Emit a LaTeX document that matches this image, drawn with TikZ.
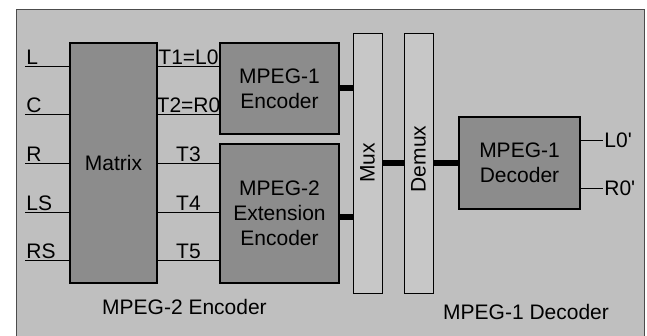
\documentclass[tikz,border=0pt]{standalone}
\usepackage{fontspec}
\setmainfont{Liberation Sans}
\usetikzlibrary{positioning}
\tikzset{
	block/.style={draw, line width=1.4pt, fill=black!45, align=center, inner sep=0pt},
	muxbox/.style={draw, line width=0.9pt, fill=black!22, inner sep=0pt},
	wire/.style={line width=0.8pt},
	bus/.style={line width=6pt},
	lbl/.style={inner sep=1pt},
}
\begin{document}
\begin{tikzpicture}[x=1pt, y=-1pt, font=\fontsize{21}{25}\selectfont]
		\useasboundingbox (0,0) rectangle (647,336);
		\draw[line width=1pt, draw=black!70, fill=black!25] (16,10) rectangle (644,340);
		% blocks
		\node[block, minimum width=87, minimum height=240] (matrix) at (113.5,163) {Matrix};
		\node[block, minimum width=119, minimum height=91] (enc1) at (279.5,88.5) {MPEG-1\\Encoder};
		\node[block, minimum width=119, minimum height=139] (enc2) at (279.5,213.5) {MPEG-2\\Extension\\Encoder};
		\node[muxbox, minimum width=29, minimum height=260] (mux) at (367.5,163) {};
		\node[muxbox, minimum width=29, minimum height=260] (demux) at (418.5,163) {};
		\node[rotate=90] at (mux.center) {Mux};
		\node[rotate=90] at ([yshift=4]demux.center) {Demux};
		\node[block, minimum width=121, minimum height=92] (dec) at (519.5,163) {MPEG-1\\Decoder};
		% inputs of the matrix
		\foreach \name/\y in {L/66, C/114, R/163, LS/212, RS/260}{
			\coordinate (in\name) at (25,\y);
			\draw[wire] (in\name) node[above right, lbl] {\name} -- (in\name -| matrix.west);
		}
		% matrix outputs
		\foreach \lab/\y/\dst in {T1=L0/66/enc1, T2=R0/114/enc1, T3/163/enc2, T4/212/enc2, T5/260/enc2}{
			\coordinate (t\y) at (157,\y);
			\draw[wire] (t\y -| matrix.east) -- (t\y -| \dst.west) node[midway, above, lbl] {\lab};
		}
		% bit streams
		\draw[bus] (enc1.east) -- (enc1.east -| mux.west);
		\draw[bus] ([yshift=-4]enc2.east) -- ([yshift=-4]enc2.east -| mux.west);
		\draw[bus] (mux.east) -- (demux.west);
		\draw[bus] (demux.east) -- (dec.west);
		% decoder outputs
		\coordinate (outL) at (603,140);
		\coordinate (outR) at (603,188);
		\draw[wire] (outL -| dec.east) -- (outL) node[right, lbl] {L0\textquotesingle};
		\draw[wire] (outR -| dec.east) -- (outR) node[right, lbl] {R0\textquotesingle};
		\node[anchor=base west, inner sep=0pt] (enclbl) at (102,314) {MPEG-2 Encoder};
		\node[anchor=base west, inner sep=0pt] (declbl) at (443,319) {MPEG-1 Decoder};
	\end{tikzpicture}
\end{document}
